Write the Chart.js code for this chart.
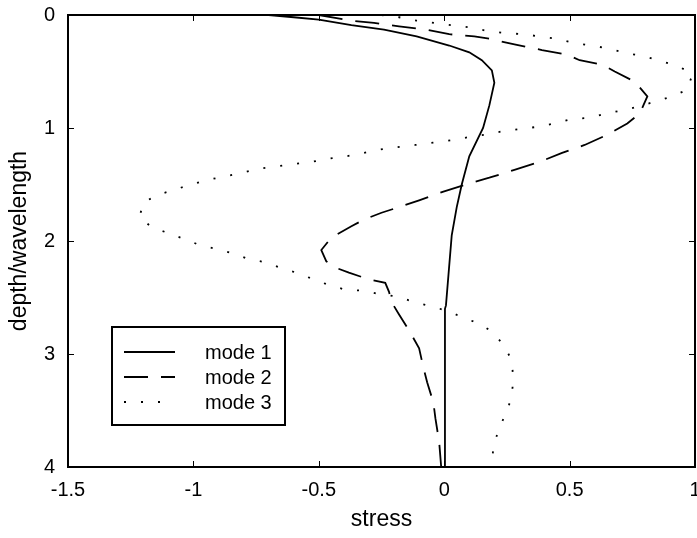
<!DOCTYPE html>
<html>
<head>
<meta charset="utf-8">
<script src="https://cdn.jsdelivr.net/npm/chart.js@4/dist/chart.umd.min.js"></script>
<style>
  html, body { margin: 0; padding: 0; background: #fff; }
  canvas { display: block; }
</style>
</head>
<body>
<canvas id="chart" width="697" height="538"></canvas>
<script>
// values
const xTicks = [-1.5, -1, -0.5, 0, 0.5, 1];
const yTicks = [0, 1, 2, 3, 4];
const seriesNames = ["mode 1", "mode 2", "mode 3"];

const mode1Stress = [-0.70, -0.60, -0.50, -0.37, -0.24, -0.11, 0.02, 0.10, 0.15, 0.19, 0.20, 0.18, 0.155, 0.10, 0.07, 0.05, 0.03, 0.017, 0.007, 0.003, 0.003];
const mode1Depth  = [0, 0.02, 0.04, 0.09, 0.13, 0.19, 0.27, 0.33, 0.40, 0.49, 0.60, 0.80, 1.00, 1.25, 1.50, 1.70, 1.95, 2.30, 2.57, 2.60, 4.00];

const mode2Stress = [-0.50, -0.37, -0.28, -0.18, -0.07, 0.02, 0.12, 0.18, 0.28, 0.39, 0.49, 0.54, 0.63, 0.68, 0.76, 0.81, 0.78, 0.73, 0.65, 0.56, 0.47, 0.38, 0.28, 0.18, 0.10, 0.00, -0.10, -0.18, -0.25, -0.32, -0.37, -0.45, -0.49, -0.47, -0.44, -0.38, -0.30, -0.235, -0.22, -0.21, -0.18, -0.135, -0.10, -0.083, -0.068, -0.043, -0.035, -0.02, -0.012];
const mode2Depth  = [0, 0.05, 0.07, 0.10, 0.13, 0.17, 0.19, 0.21, 0.26, 0.31, 0.35, 0.40, 0.44, 0.50, 0.59, 0.72, 0.87, 0.96, 1.06, 1.15, 1.22, 1.30, 1.37, 1.44, 1.49, 1.56, 1.64, 1.70, 1.75, 1.81, 1.87, 1.97, 2.08, 2.18, 2.23, 2.28, 2.34, 2.37, 2.45, 2.54, 2.65, 2.81, 2.95, 3.12, 3.25, 3.43, 3.57, 3.78, 4.00];

const mode3Stress = [-0.25, -0.18, -0.11, -0.04, 0.03, 0.10, 0.17, 0.24, 0.32, 0.38, 0.45, 0.52, 0.59, 0.66, 0.73, 0.79, 0.865, 0.93, 0.99, 0.97, 0.91, 0.85, 0.79, 0.72, 0.65, 0.58, 0.51, 0.44, 0.37, 0.30, 0.23, 0.16, 0.10, 0.024, -0.045, -0.115, -0.19, -0.255, -0.32, -0.39, -0.46, -0.53, -0.60, -0.67, -0.74, -0.81, -0.88, -0.945, -1.01, -1.08, -1.14, -1.20, -1.215, -1.165, -1.10, -1.04, -0.97, -0.91, -0.84, -0.78, -0.71, -0.65, -0.59, -0.52, -0.46, -0.395, -0.32, -0.26, -0.19, -0.12, -0.05, 0.016, 0.076, 0.14, 0.195, 0.24, 0.27, 0.275, 0.27, 0.25, 0.22, 0.20, 0.19, 0.185];
const mode3Depth  = [0, 0.02, 0.05, 0.07, 0.09, 0.11, 0.14, 0.16, 0.17, 0.19, 0.21, 0.25, 0.27, 0.30, 0.34, 0.36, 0.41, 0.45, 0.52, 0.66, 0.72, 0.76, 0.80, 0.84, 0.87, 0.91, 0.92, 0.96, 0.99, 1.01, 1.03, 1.06, 1.08, 1.11, 1.13, 1.15, 1.17, 1.19, 1.22, 1.25, 1.27, 1.30, 1.32, 1.34, 1.36, 1.40, 1.43, 1.46, 1.50, 1.55, 1.59, 1.66, 1.79, 1.88, 1.93, 1.98, 2.04, 2.07, 2.11, 2.16, 2.19, 2.24, 2.28, 2.34, 2.39, 2.43, 2.44, 2.47, 2.49, 2.54, 2.58, 2.62, 2.68, 2.73, 2.81, 2.93, 3.06, 3.22, 3.37, 3.51, 3.65, 3.79, 3.93, 4.00];

const toPoints = (xs, ys) => xs.map((v, i) => ({ x: v, y: ys[i] }));

const dashes = [[], [24, 13], [2, 15]];
const family = "'Liberation Sans', Arial, sans-serif";

// box, inside ticks and legend drawn on top of the plot
const framePlugin = {
  id: "frame",
  afterDatasetsDraw(chart) {
    const { ctx, chartArea: a, scales: { x, y } } = chart;
    ctx.save();
    ctx.strokeStyle = "#000";
    ctx.lineWidth = 1;
    ctx.beginPath();
    xTicks.forEach(v => {
      const px = Math.round(x.getPixelForValue(v)) + 0.5;
      ctx.moveTo(px, a.bottom); ctx.lineTo(px, a.bottom - 6);
      ctx.moveTo(px, a.top); ctx.lineTo(px, a.top + 6);
    });
    yTicks.forEach(v => {
      const py = Math.round(y.getPixelForValue(v)) + 0.5;
      ctx.moveTo(a.left, py); ctx.lineTo(a.left + 6, py);
      ctx.moveTo(a.right, py); ctx.lineTo(a.right - 6, py);
    });
    ctx.stroke();
    ctx.lineWidth = 2;
    ctx.strokeRect(a.left, a.top, a.right - a.left, a.bottom - a.top);

    // legend
    const lx = a.left + 44, ly = a.top + 312, lw = 173, lh = 98;
    ctx.fillStyle = "#fff";
    ctx.fillRect(lx, ly, lw, lh);
    ctx.strokeRect(lx, ly, lw, lh);
    ctx.font = "20px " + family;
    ctx.fillStyle = "#000";
    ctx.textBaseline = "middle";
    chart.data.datasets.forEach((ds, i) => {
      const cy = ly + 25 + i * 25;
      ctx.lineWidth = 1.8;
      ctx.setLineDash(ds.borderDash || []);
      ctx.beginPath();
      ctx.moveTo(lx + 12, cy); ctx.lineTo(lx + 63, cy);
      ctx.stroke();
      ctx.setLineDash([]);
      ctx.fillText(ds.label, lx + 93, cy + 1);
    });
    ctx.restore();
  }
};

const font = { family, size: 20 };
const titleFont = { family, size: 23 };

new Chart(document.getElementById("chart"), {
  type: "scatter",
  data: {
    datasets: [
      { label: seriesNames[0], data: toPoints(mode1Stress, mode1Depth) },
      { label: seriesNames[1], data: toPoints(mode2Stress, mode2Depth) },
      { label: seriesNames[2], data: toPoints(mode3Stress, mode3Depth) }
    ].map((ds, i) => ({
      ...ds,
      showLine: true,
      borderColor: "#000",
      borderWidth: 1.8,
      borderDash: dashes[i],
      pointRadius: 0,
      tension: 0,
      fill: false
    }))
  },
  options: {
    responsive: false,
    animation: false,
    layout: { padding: { top: 15, right: 2, left: 0, bottom: 0 } },
    plugins: { legend: { display: false }, tooltip: { enabled: false } },
    scales: {
      x: {
        type: "linear",
        min: -1.5,
        max: 1,
        afterBuildTicks: s => { s.ticks = xTicks.map(v => ({ value: v })); },
        ticks: { color: "#000", font, padding: 11, maxRotation: 0, autoSkip: false, callback: v => String(v) },
        grid: { display: false, drawTicks: false },
        border: { display: false },
        title: { display: true, text: "stress", color: "#000", font: titleFont, padding: { top: 0, bottom: 5 } },
        afterFit: s => { s.height = 71; s.paddingLeft = 0; s.paddingRight = 0; }
      },
      y: {
        type: "linear",
        min: 0,
        max: 4,
        reverse: true,
        afterBuildTicks: s => { s.ticks = yTicks.map(v => ({ value: v })); },
        ticks: { color: "#000", font, padding: 13, autoSkip: false, callback: v => String(v) },
        grid: { display: false, drawTicks: false },
        border: { display: false },
        title: { display: true, text: "depth/wavelength", color: "#000", font: titleFont, padding: { top: 6, bottom: 0 } },
        afterFit: s => { s.width = 68; s.paddingTop = 0; s.paddingBottom = 0; }
      }
    }
  },
  plugins: [framePlugin]
});
</script>
</body>
</html>
